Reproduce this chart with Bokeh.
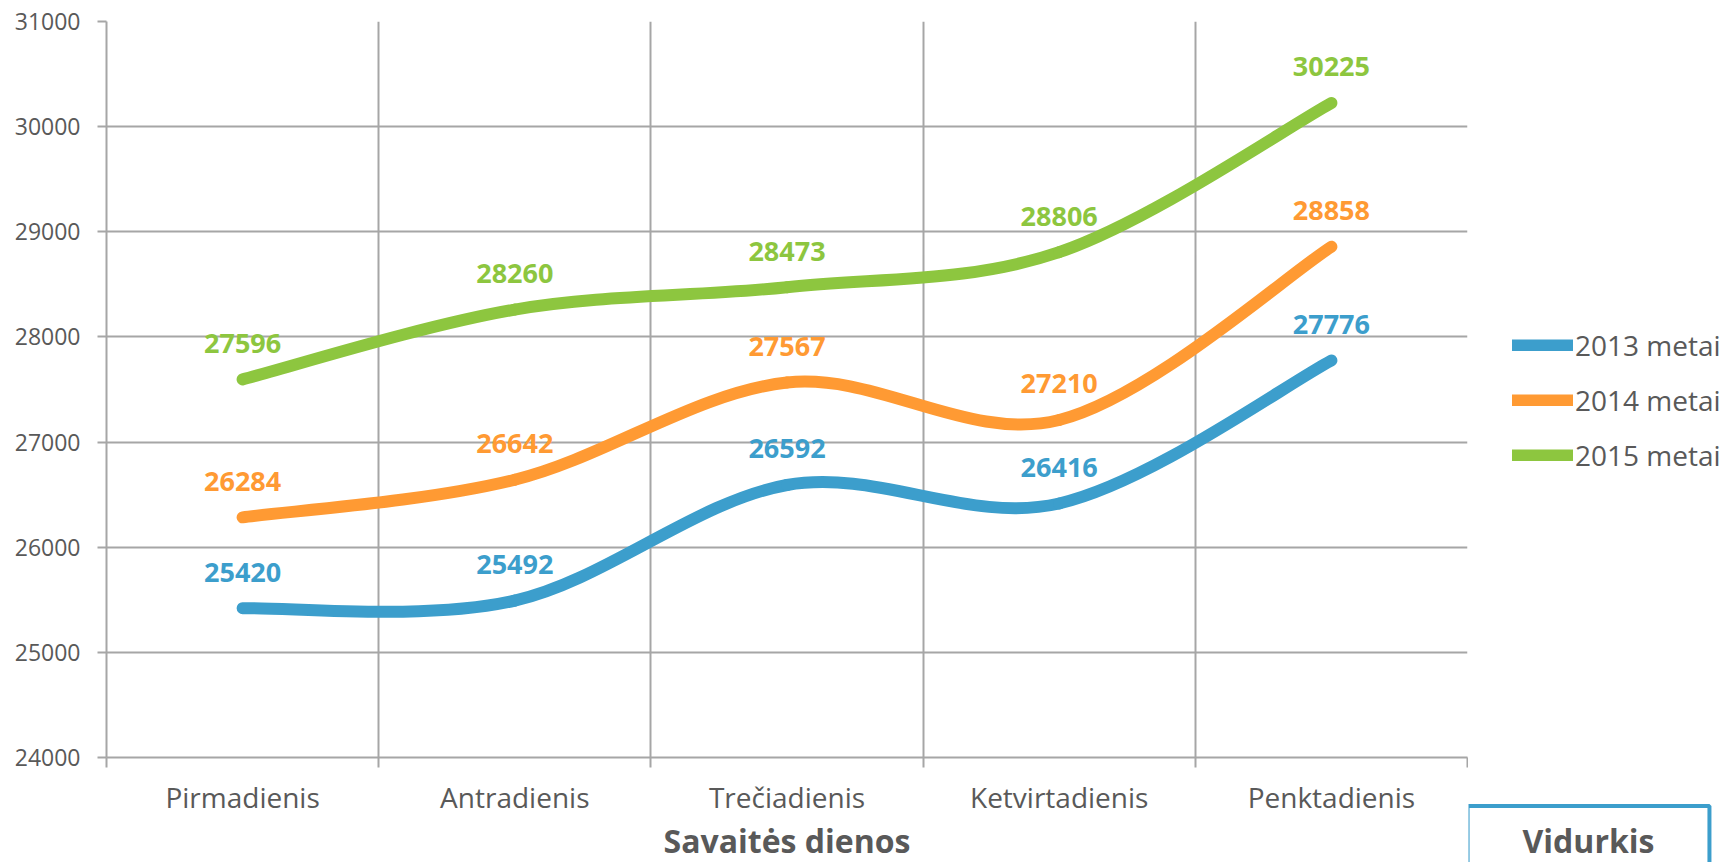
from bokeh.plotting import figure
from bokeh.layouts import row, column
from bokeh.models import Range1d, FixedTicker, Legend, LegendItem, Label, ColumnDataSource
from bokeh.core.properties import value
from bokeh.embed import file_html
from bokeh.resources import INLINE

# ---- data ----
days = ["Pirmadienis", "Antradienis", "Trečiadienis", "Ketvirtadienis", "Penktadienis"]
series_names = ["2013 metai", "2014 metai", "2015 metai"]
v2013 = [25420, 25492, 26592, 26416, 27776]
v2014 = [26284, 26642, 27567, 27210, 28858]
v2015 = [27596, 28260, 28473, 28806, 30225]
y_ticks = [24000, 25000, 26000, 27000, 28000, 29000, 30000, 31000]
x_title = "Savaitės dienos"
box_text = "Vidurkis"

colors = ["#3C9ECC", "#FF9A33", "#8DC63F"]
TEXT = "#595959"
GRID = "#A6A6A6"
FONT = "Open Sans"

TOTAL_W, TOTAL_H = 1724, 862
MAIN_W = 1468
MAIN_H = 818


def blank(fig):
    fig.outline_line_color = None
    fig.xgrid.visible = False
    fig.ygrid.visible = False
    fig.frame_align = False


p = figure(width=MAIN_W, height=MAIN_H, output_backend="svg", toolbar_location=None,
           x_range=Range1d(0.5, 5.5), y_range=Range1d(24000, 31000),
           min_border_left=106, min_border_top=21, min_border_bottom=61, min_border_right=1)
p.outline_line_color = None
p.frame_align = False

xs = list(range(1, len(days) + 1))

# y axis
p.yaxis.ticker = FixedTicker(ticks=y_ticks)
p.yaxis.major_tick_out = 9
p.yaxis.major_tick_in = 0
p.yaxis.minor_tick_line_color = None
p.yaxis.major_tick_line_color = GRID
p.yaxis.major_tick_line_width = 2
p.yaxis.axis_line_color = GRID
p.yaxis.axis_line_width = 2
p.yaxis.major_label_text_font = FONT
p.yaxis.major_label_text_font_size = "23px"
p.yaxis.major_label_text_color = TEXT
p.yaxis.major_label_standoff = 17

# x axis (labels at category centres, ticks at category boundaries)
bounds = [x - 0.5 for x in xs] + [xs[-1] + 0.5]
p.xaxis.ticker = FixedTicker(ticks=xs, minor_ticks=bounds)
p.xaxis.major_label_overrides = {x: d for x, d in zip(xs, days)}
p.xaxis.major_tick_line_color = None
p.xaxis.major_tick_out = 0
p.xaxis.major_tick_in = 0
p.xaxis.minor_tick_out = 10
p.xaxis.minor_tick_in = 0
p.xaxis.minor_tick_line_color = GRID
p.xaxis.minor_tick_line_width = 2
p.xaxis.axis_line_color = GRID
p.xaxis.axis_line_width = 2
p.xaxis.major_label_text_font = FONT
p.xaxis.major_label_text_font_size = "28px"
p.xaxis.major_label_text_color = TEXT
p.xaxis.major_label_standoff = 10

p.xgrid.ticker = FixedTicker(ticks=bounds)
p.xgrid.grid_line_color = GRID
p.xgrid.grid_line_width = 2
p.ygrid.grid_line_color = GRID
p.ygrid.grid_line_width = 2


def smooth_source(vals):
    n = len(vals)
    d = dict(x0=[], y0=[], x1=[], y1=[], cx0=[], cy0=[], cx1=[], cy1=[])
    for i in range(n - 1):
        xp, yp = (xs[i - 1], vals[i - 1]) if i > 0 else (xs[i], vals[i])
        xn, yn = (xs[i + 2], vals[i + 2]) if i + 2 < n else (xs[i + 1], vals[i + 1])
        d["x0"].append(xs[i]); d["y0"].append(vals[i])
        d["x1"].append(xs[i + 1]); d["y1"].append(vals[i + 1])
        d["cx0"].append(xs[i] + (xs[i + 1] - xp) / 6)
        d["cy0"].append(vals[i] + (vals[i + 1] - yp) / 6)
        d["cx1"].append(xs[i + 1] - (xn - xs[i]) / 6)
        d["cy1"].append(vals[i + 1] - (yn - vals[i]) / 6)
    return ColumnDataSource(d)


all_vals = [v2013, v2014, v2015]
for vals, col in zip(all_vals, colors):
    p.bezier(x0="x0", y0="y0", x1="x1", y1="y1", cx0="cx0", cy0="cy0",
             cx1="cx1", cy1="cy1", source=smooth_source(vals),
             line_color=col, line_width=12, line_cap="round")

for vals, col in zip(all_vals, colors):
    p.text(x=xs, y=vals, text=[str(v) for v in vals], y_offset=-36,
           text_align="center", text_baseline="middle",
           text_font=value(FONT), text_font_style="bold", text_font_size="27px",
           text_color=col)

# ---- x-axis title strip below the chart ----
p3_h = TOTAL_H - MAIN_H
p3 = figure(width=MAIN_W, height=p3_h, output_backend="svg", toolbar_location=None,
            x_range=Range1d(0, MAIN_W), y_range=Range1d(0, p3_h), title=None,
            x_axis_location=None, y_axis_location=None,
            min_border_left=0, min_border_right=0, min_border_top=0, min_border_bottom=0)
blank(p3)
p3.add_layout(Label(x=786.5, y=TOTAL_H - 840, x_units="screen", y_units="screen",
                    text=x_title, text_align="center", text_baseline="middle",
                    text_font=FONT, text_font_style="bold", text_font_size="32px",
                    text_color=TEXT))

# ---- right-hand side: legend and "Vidurkis" box ----
side_w = TOTAL_W - MAIN_W
p2 = figure(width=side_w, height=TOTAL_H, output_backend="svg", toolbar_location=None,
            x_range=Range1d(0, side_w), y_range=Range1d(0, TOTAL_H), title=None,
            x_axis_location=None, y_axis_location=None,
            min_border_left=0, min_border_right=0, min_border_top=0, min_border_bottom=0)
blank(p2)

items = []
for name, vals, col in zip(series_names, all_vals, colors):
    # series drawn outside this panel's view; used only for the legend swatch
    r = p2.line(x=xs, y=vals, line_color=col, line_width=12, line_cap="round")
    items.append(LegendItem(label=name, renderers=[r]))

legend = Legend(items=items, location=(44, 388), orientation="vertical",
                border_line_color=None, background_fill_alpha=0,
                label_text_font=FONT, label_text_font_size="28px", label_text_color=TEXT,
                glyph_width=61, glyph_height=12, label_standoff=2, spacing=17,
                padding=0, margin=0, label_height=20)
p2.add_layout(legend)

p2.add_layout(Label(x=120, y=TOTAL_H - 840, x_units="screen", y_units="screen", text=box_text,
                    text_align="center", text_baseline="middle",
                    text_font=FONT, text_font_style="bold", text_font_size="32px",
                    text_color=TEXT,
                    border_line_color=colors[0], border_line_width=4,
                    background_fill_alpha=0,
                    padding=dict(top=13, right=55, bottom=13, left=55)))

layout = row(column(p, p3, spacing=0), p2, spacing=0)
open("out.html", "w").write(file_html(layout, INLINE))
